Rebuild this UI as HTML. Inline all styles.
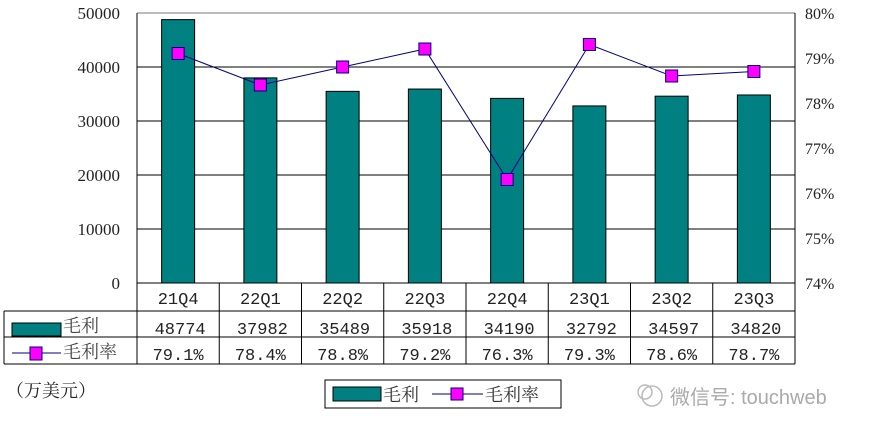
<!DOCTYPE html>
<html><head><meta charset="utf-8"><style>
html,body{margin:0;padding:0;background:#fff;}
svg{display:block;font-family:"Liberation Serif","Noto Serif CJK SC",serif;}
</style></head><body>
<svg id="c" width="870" height="435" viewBox="0 0 870 435"></svg>
<script>
const categories=["21Q4","22Q1","22Q2","22Q3","22Q4","23Q1","23Q2","23Q3"];
const profitValues=[48774,37982,35489,35918,34190,32792,34597,34820];
const marginValues=[79.1,78.4,78.8,79.2,76.3,79.3,78.6,78.7];
const leftTicks=[0,10000,20000,30000,40000,50000];
const rightTicks=[74,75,76,77,78,79,80];
const marginLabels=["79.1%","78.4%","78.8%","79.2%","76.3%","79.3%","78.6%","78.7%"];

const svg=document.getElementById('c');
const NS="http://www.w3.org/2000/svg";
const X0=137,X1=795,Y0=283,Y1=13;
const step=(X1-X0)/categories.length;
const yL=v=>Y0-(v-0)/(50000)*(Y0-Y1);
const yR=v=>Y0-(v-74)/(6)*(Y0-Y1);
const xC=i=>X0+step*(i+0.5);
const MONO='"Liberation Mono","Noto Sans CJK SC",monospace';
function el(t,a,txt){const e=document.createElementNS(NS,t);for(const k in a)e.setAttribute(k,a[k]);if(txt!==undefined)e.textContent=txt;svg.appendChild(e);return e;}

leftTicks.forEach(v=>{
 if(v>0){const g=el('line',{x1:X0,x2:X1,y1:yL(v),y2:yL(v),stroke:v==50000?'#777':'#000','stroke-width':1});
 
 }
 const t=el('text',{x:120,y:yL(v)+6,'text-anchor':'end','font-size':17,fill:'#222'},String(v));
 
 
});
rightTicks.forEach(v=>{
 const t=el('text',{x:805,y:yR(v)+6,'font-size':16,fill:'#222'},v+'%');
 
 
});
let a=el('line',{x1:X0,x2:X0,y1:Y1,y2:Y0,stroke:'#000'});

a=el('line',{x1:X1,x2:X1,y1:Y1,y2:Y0,stroke:'#000'});


profitValues.forEach((v,i)=>{
 const b=el('rect',{x:xC(i)-16.5,y:yL(v),width:33,height:Y0-yL(v),fill:'#008080',stroke:'#000','stroke-width':1});
 
 
});
const pl=el('polyline',{points:marginValues.map((v,i)=>xC(i)+','+yR(v)).join(' '),fill:'none',stroke:'#000080','stroke-width':1});


marginValues.forEach((v,i)=>{
 const m=el('rect',{x:xC(i)-6,y:yR(v)-6,width:12,height:12,fill:'#ff00ff',stroke:'#000080','stroke-width':1});
 
 
});

const R0=283,R1=311,R2=337,R3=364;
[[X0,R0,X1,R0],[4,R1,X1,R1],[4,R2,X1,R2],[4,R3,X1,R3],[4,R1,4,R3],[X1,R0,X1,R3]].forEach(l=>{
 const t=el('line',{x1:l[0],y1:l[1],x2:l[2],y2:l[3],stroke:'#000'});
 
 
});
for(let i=0;i<=categories.length;i++){
 const t=el('line',{x1:X0+step*i,x2:X0+step*i,y1:R0,y2:R3,stroke:'#000'});
 
 
}
categories.forEach((c,i)=>{
 let t=el('text',{x:xC(i),y:R0+21,'text-anchor':'middle','font-size':17,fill:'#222','font-family':MONO},c);
 
 t=el('text',{x:xC(i)+2,y:R1+23,'text-anchor':'middle','font-size':17,fill:'#222','font-family':MONO},String(profitValues[i]));
 
 t=el('text',{x:xC(i),y:R2+23,'text-anchor':'middle','font-size':17,fill:'#222','font-family':MONO},marginLabels[i]);
 
});
let k=el('rect',{x:12,y:R1+12,width:49,height:13,fill:'#008080',stroke:'#000'});

k=el('text',{x:63,y:R1+21,'font-size':18,fill:'#444'},'毛利');

k=el('line',{x1:12,x2:61,y1:R2+16,y2:R2+16,stroke:'#000080'});

k=el('rect',{x:30,y:R2+10,width:12,height:13,fill:'#ff00ff',stroke:'#000080'});

k=el('text',{x:63,y:R2+21,'font-size':18,fill:'#444'},'毛利率');


k=el('text',{x:6,y:397,'font-size':18,fill:'#222'},'（万美元）');


k=el('rect',{x:325,y:380,width:236,height:28,fill:'#fff',stroke:'#000'});

k=el('rect',{x:333,y:387,width:48,height:14,fill:'#008080',stroke:'#000'});

k=el('text',{x:383,y:401,'font-size':18,fill:'#333'},'毛利');

k=el('line',{x1:432,x2:483,y1:394,y2:394,stroke:'#000080'});

k=el('rect',{x:451,y:388,width:12,height:12,fill:'#ff00ff',stroke:'#000080'});

k=el('text',{x:485,y:401,'font-size':18,fill:'#333'},'毛利率');


k=el('text',{x:670,y:404,'font-size':20,fill:'#aaa','font-family':'"Liberation Sans","Noto Sans CJK SC",sans-serif'},'微信号: touchweb');

k=el('circle',{cx:652,cy:396,r:10,fill:'none',stroke:'#bbb','stroke-width':1.5});

k=el('circle',{cx:645,cy:392,r:7,fill:'none',stroke:'#bbb','stroke-width':1.5});

</script>
</body></html>
